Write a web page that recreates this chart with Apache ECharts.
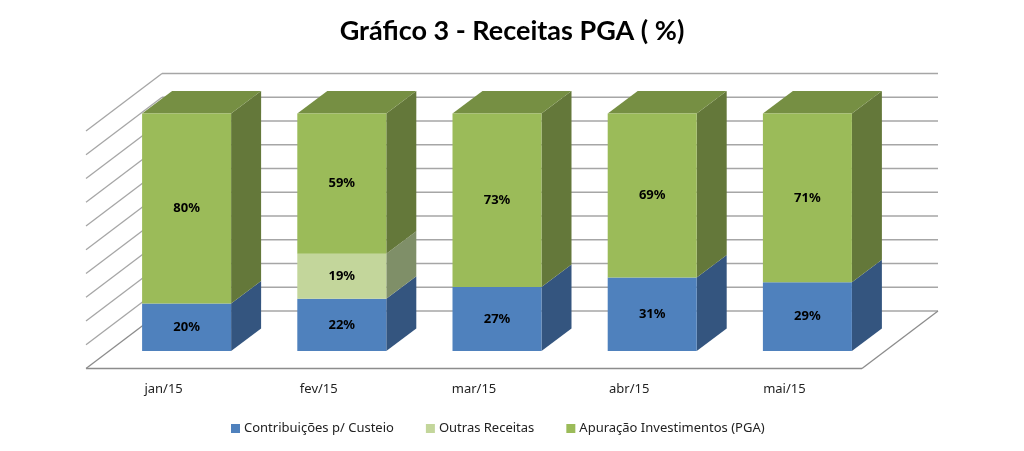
<!DOCTYPE html>
<html><head><meta charset="utf-8">
<script src="https://cdn.jsdelivr.net/npm/echarts@6/dist/echarts.min.js"></script>
<style>html,body{margin:0;padding:0;background:#fff}#c{width:1024px;height:451px}</style>
</head><body><div id="c"></div>
<script>
const categories = ['jan/15','fev/15','mar/15','abr/15','mai/15'];
const contribuicoes = [20,22,27,31,29];
const outras = [null,19,null,null,null];
const apuracao = [80,59,73,69,71];
const ticks = [0,10,20,30,40,50,60,70,80,90,100];
const names = ['Contribuições p/ Custeio','Outras Receitas','Apuração Investimentos (PGA)'];
const front = ['#4F81BD','#C3D69B','#9BBB59'];
const side  = ['#34557F','#7F8F68','#64783A'];
const topFace = ['#3E6390','#92A076','#768F43'];
const wallDX = 76, wallDY = -57.5;
const barW = 89, barDX = 30, barDY = -22.5;
const gridColor = '#A6A6A6', floorColor = '#8C8C8C';
const stacks = [contribuicoes, outras, apuracao];

function wallItem(params, api){
  const t = api.value(1);
  const bw = api.size([1,0])[0];
  const p = api.coord([0,t]);
  const x0 = p[0]-bw/2, x1 = x0+bw*categories.length, y = p[1];
  const kids = [];
  const col = t===0?floorColor:gridColor, w = t===0?1.3:1.6;
  const ln = (a,b,c,d,cc,ww)=>({type:'line',shape:{x1:a,y1:b,x2:c,y2:d},style:{stroke:cc||col,lineWidth:ww||w}});
  kids.push(ln(x0,y,x0+wallDX,y+wallDY,t===0?floorColor:gridColor,t===0?1.3:1.3));
  kids.push(ln(x0+wallDX,y+wallDY,x1+wallDX,y+wallDY,gridColor,1.6));
  if(t===0){
    kids.push(ln(x0,y,x1,y));
    kids.push(ln(x1,y,x1+wallDX,y+wallDY));
  }
  return {type:'group',children:kids};
}
function sideSeries(k){
  const data = categories.map((c,i)=>{
    let base=0; for(let j=0;j<k;j++) base+=(stacks[j][i]||0);
    return [i,base,base+(stacks[k][i]||0)];
  });
  return {
    type:'custom', name:'faces '+k, xAxisIndex:1, yAxisIndex:1, silent:true, z:3,
    data, encode:{x:0,y:[1,2]},
    renderItem(params,api){
      const i=api.value(0), b=api.value(1), t=api.value(2);
      if(t<=b) return null;
      const pb=api.coord([i,b]), pt=api.coord([i,t]);
      const xl=pb[0]-barW/2, xr=pb[0]+barW/2;
      const kids=[{type:'polygon',shape:{points:[[xr,pb[1]],[xr+barDX,pb[1]+barDY],[xr+barDX,pt[1]+barDY],[xr,pt[1]]]},style:{fill:side[k]}}];
      if(t>=100) kids.push({type:'polygon',shape:{points:[[xl,pt[1]],[xl+barDX,pt[1]+barDY],[xr+barDX,pt[1]+barDY],[xr,pt[1]]]},style:{fill:topFace[k]}});
      return {type:'group',children:kids};
    }
  };
}
const barFont = {show:true,position:'inside',color:'#000',fontFamily:'Noto Sans',fontWeight:'bold',fontSize:13,
  formatter:p=>p.value==null?'':p.value+'%'};
const option = {
  animation:false,
  backgroundColor:'#fff',
  title:{text:'Gráfico 3 - Receitas PGA ( %)',left:'center',top:13,
    textStyle:{fontFamily:'Lato',fontWeight:'bold',fontSize:27,color:'#000'}},
  legend:{data:names,left:226,top:417,icon:'rect',itemWidth:9,itemHeight:9,itemGap:32,
    selectedMode:false,textStyle:{fontFamily:'Noto Sans',fontSize:13,color:'#222',padding:[0,0,0,-1]}},
  grid:[
    {left:86,width:776,top:131,height:237.5},
    {left:109,width:776,top:113.6,height:237.5}
  ],
  xAxis:[
    {type:'category',gridIndex:0,data:categories,axisLine:{show:false},axisTick:{show:false},
      axisLabel:{margin:14,fontFamily:'Noto Sans',fontSize:13,color:'#222'}},
    {type:'category',gridIndex:1,data:categories,show:false}
  ],
  yAxis:[
    {type:'value',gridIndex:0,min:0,max:100,interval:10,show:false,splitLine:{show:false}},
    {type:'value',gridIndex:1,min:0,max:100,interval:10,show:false,splitLine:{show:false}}
  ],
  series:[
    {type:'custom',name:'walls',xAxisIndex:0,yAxisIndex:0,silent:true,z:1,
      data:ticks.map(t=>[0,t]),encode:{x:0,y:1},renderItem:wallItem},
    sideSeries(0),sideSeries(1),sideSeries(2),
    ...names.map((n,k)=>({type:'bar',name:n,stack:'total',xAxisIndex:1,yAxisIndex:1,z:4,
      barWidth:barW,data:stacks[k],itemStyle:{color:front[k]},label:barFont}))
  ]
};
echarts.init(document.getElementById('c'),null,{renderer:'canvas'}).setOption(option);
</script></body></html>
